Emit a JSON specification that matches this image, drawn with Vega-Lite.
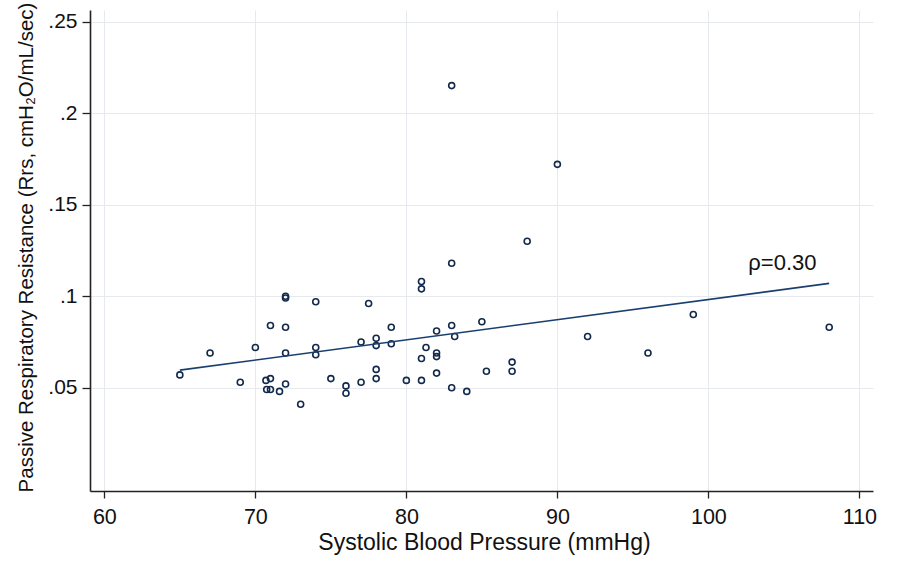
{
  "$schema": "https://vega.github.io/schema/vega-lite/v6.json",
  "width": 783,
  "height": 481,
  "autosize": {"type": "none"},
  "padding": {"left": 90, "top": 10, "right": 27, "bottom": 72},
  "background": "white",
  "datasets": {
    "points": [
      {"sbp": 65, "rrs": 0.057}, {"sbp": 67, "rrs": 0.069}, {"sbp": 69, "rrs": 0.053},
      {"sbp": 70, "rrs": 0.072}, {"sbp": 70.7, "rrs": 0.054}, {"sbp": 71, "rrs": 0.055},
      {"sbp": 70.75, "rrs": 0.049}, {"sbp": 71, "rrs": 0.049}, {"sbp": 71, "rrs": 0.084},
      {"sbp": 71.6, "rrs": 0.048}, {"sbp": 72, "rrs": 0.099}, {"sbp": 72, "rrs": 0.1},
      {"sbp": 72, "rrs": 0.083}, {"sbp": 72, "rrs": 0.069}, {"sbp": 72, "rrs": 0.052},
      {"sbp": 73, "rrs": 0.041}, {"sbp": 74, "rrs": 0.097}, {"sbp": 74, "rrs": 0.072},
      {"sbp": 74, "rrs": 0.068}, {"sbp": 75, "rrs": 0.055}, {"sbp": 76, "rrs": 0.051},
      {"sbp": 76, "rrs": 0.047}, {"sbp": 77, "rrs": 0.053}, {"sbp": 77, "rrs": 0.075},
      {"sbp": 77.5, "rrs": 0.096}, {"sbp": 78, "rrs": 0.077}, {"sbp": 78, "rrs": 0.073},
      {"sbp": 78, "rrs": 0.06}, {"sbp": 78, "rrs": 0.055}, {"sbp": 79, "rrs": 0.083},
      {"sbp": 79, "rrs": 0.074}, {"sbp": 80, "rrs": 0.054}, {"sbp": 81, "rrs": 0.108},
      {"sbp": 81, "rrs": 0.104}, {"sbp": 81, "rrs": 0.066}, {"sbp": 81, "rrs": 0.054},
      {"sbp": 81.3, "rrs": 0.072}, {"sbp": 82, "rrs": 0.081}, {"sbp": 82, "rrs": 0.069},
      {"sbp": 82, "rrs": 0.067}, {"sbp": 82, "rrs": 0.058}, {"sbp": 83, "rrs": 0.215},
      {"sbp": 83, "rrs": 0.118}, {"sbp": 83, "rrs": 0.084}, {"sbp": 83.2, "rrs": 0.078},
      {"sbp": 83, "rrs": 0.05}, {"sbp": 84, "rrs": 0.048}, {"sbp": 85, "rrs": 0.086},
      {"sbp": 85.3, "rrs": 0.059}, {"sbp": 87, "rrs": 0.064}, {"sbp": 87, "rrs": 0.059},
      {"sbp": 88, "rrs": 0.13}, {"sbp": 90, "rrs": 0.172}, {"sbp": 92, "rrs": 0.078},
      {"sbp": 96, "rrs": 0.069}, {"sbp": 99, "rrs": 0.09}, {"sbp": 108, "rrs": 0.083}
    ],
    "fit": [
      {"sbp": 65, "rrs": 0.0596},
      {"sbp": 108, "rrs": 0.107}
    ],
    "annot": [
      {"sbp": 104.9, "rrs": 0.118, "label": "ρ=0.30"}
    ]
  },
  "layer": [
    {
      "data": {"name": "points"},
      "mark": {"type": "point", "shape": "circle", "filled": false, "stroke": "#13294b", "strokeWidth": 1.6, "size": 36, "opacity": 1},
      "encoding": {
        "x": {
          "field": "sbp", "type": "quantitative",
          "scale": {"domain": [59.05, 110.9], "nice": false, "zero": false},
          "axis": {
            "title": "Systolic Blood Pressure (mmHg)",
            "values": [60, 70, 80, 90, 100, 110],
            "labelPadding": 8,
            "labelFontSize": 21.5,
            "titleFontSize": 23,
            "titleBaseline": "top",
            "titleY": 40,
            "titleX": 394
          }
        },
        "y": {
          "field": "rrs", "type": "quantitative",
          "scale": {"domain": [-0.0064, 0.2563], "nice": false, "zero": false},
          "axis": {
            "title": "Passive Respiratory Resistance (Rrs, cmH₂O/mL/sec)",
            "values": [0.05, 0.1, 0.15, 0.2, 0.25],
            "labelExpr": "replace(format(datum.value, '.2~f'), '0.', '.')",
            "labelPadding": 5,
            "tickSize": 8,
            "labelFontSize": 21,
            "titleFontSize": 20.5,
            "titleBaseline": "alphabetic",
            "titleX": -58,
            "titleY": 237
          }
        }
      }
    },
    {
      "data": {"name": "fit"},
      "mark": {"type": "line", "color": "#1a3f6f", "strokeWidth": 1.6},
      "encoding": {
        "x": {"field": "sbp", "type": "quantitative"},
        "y": {"field": "rrs", "type": "quantitative"}
      }
    },
    {
      "data": {"name": "annot"},
      "mark": {"type": "text", "font": "Liberation Sans", "fontSize": 22, "color": "#111", "align": "center", "baseline": "middle"},
      "encoding": {
        "x": {"field": "sbp", "type": "quantitative"},
        "y": {"field": "rrs", "type": "quantitative"},
        "text": {"field": "label"}
      }
    }
  ],
  "config": {
    "view": {"stroke": null},
    "axis": {
      "domainColor": "#222",
      "domainWidth": 1.6,
      "tickColor": "#222",
      "tickWidth": 1.3,
      "tickSize": 7,
      "grid": true,
      "gridColor": "#e6eaee",
      "gridWidth": 1,
      "labelFont": "Liberation Sans",
      "labelColor": "#111",
      "titleFont": "Liberation Sans",
      "titleColor": "#111",
      "titleFontWeight": "normal"
    }
  }
}
